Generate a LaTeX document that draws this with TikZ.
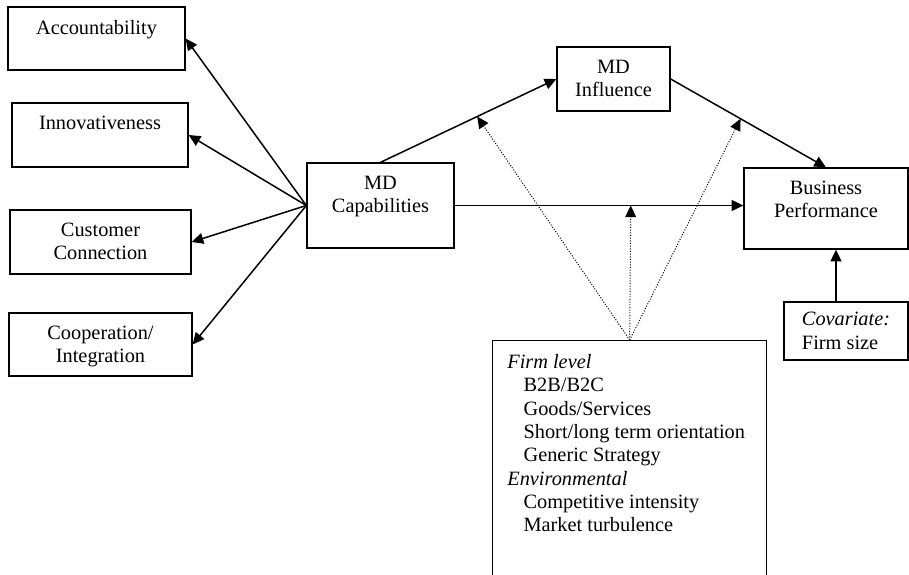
\documentclass[tikz,border=0pt]{standalone}
\usepackage{fontspec}
\setmainfont{Liberation Serif}
\usetikzlibrary{arrows.meta}

\newcommand{\ind}{\hspace*{0.8em}}

\begin{document}
\begin{tikzpicture}[x=0.6pt, y=-0.6pt,
	font=\fontsize{12.2}{14}\selectfont,
	box/.style={draw, line width=0.8pt, inner sep=0pt},
	intext/.style={anchor=north, yshift=-8pt, inner sep=0pt, align=center},
	modtext/.style={anchor=north west, xshift=9pt, yshift=-8.5pt, inner sep=0pt, align=left},
	arr/.style={line width=0.9pt, -{Triangle[length=7pt, width=6.5pt]}},
	modarr/.style={line width=0.6pt, densely dotted, -{Triangle[length=7pt, width=6.5pt]}}]
	\useasboundingbox (0,0) rectangle (909,574);
	\clip (0,0) rectangle (909,574);

	% capability dimensions
	\node[box, minimum width=106.2pt, minimum height=37.8pt, label={[intext]north:Accountability}] (acc) at (96.5,38.5) {};
	\node[box, minimum width=105.6pt, minimum height=38.4pt, label={[intext]north:Innovativeness}] (inn) at (100,135) {};
	\node[box, minimum width=108.6pt, minimum height=38.4pt, label={[intext]north:Customer\\Connection}] (cust) at (100.5,242) {};
	\node[box, minimum width=109.8pt, minimum height=37.8pt, label={[intext]north:Cooperation/\\Integration}] (coop) at (100.5,344.5) {};

	% main constructs
	\node[box, minimum width=88.2pt, minimum height=51pt, label={[intext]north:MD\\Capabilities}] (cap) at (380.5,205.5) {};
	\node[box, minimum width=67.8pt, minimum height=38.4pt, label={[intext]north:MD\\Influence}] (infl) at (613.5,79) {};
	\node[box, minimum width=98.4pt, minimum height=48.6pt, label={[intext]north:Business\\Performance}] (perf) at (826,208.5) {};
	\node[box, minimum width=74.4pt, minimum height=34.8pt, align=left] (cov) at (846,331) {\textit{Covariate:}\\Firm size};

	% moderators
	\node[box, anchor=north west, minimum width=164.4pt, minimum height=150pt,
		label={[modtext]north west:\textit{Firm level}\\\ind B2B/B2C\\\ind Goods/Services\\\ind Short/long term orientation\\\ind Generic Strategy\\\textit{Environmental}\\\ind Competitive intensity\\\ind Market turbulence}] (mod) at (492,340) {};

	\foreach \d in {acc,inn,cust,coop}
		\draw[arr] (cap.west) -- (\d.east);

	\draw[arr] (cap.north) -- coordinate[pos=0.55] (m1) (infl.west);
	\draw[arr] (infl.east) -- coordinate[pos=0.45] (m3) (perf.north);
	\draw[arr] (cap.east) -- coordinate[pos=0.61] (m2) (cap.east -| perf.west);
	\draw[arr] ([xshift=-6pt]cov.north) -- ([xshift=-6pt]cov.north |- perf.south);

	\foreach \m in {m1,m2,m3}
		\draw[modarr] (mod.north) -- (\m);
\end{tikzpicture}
\end{document}
